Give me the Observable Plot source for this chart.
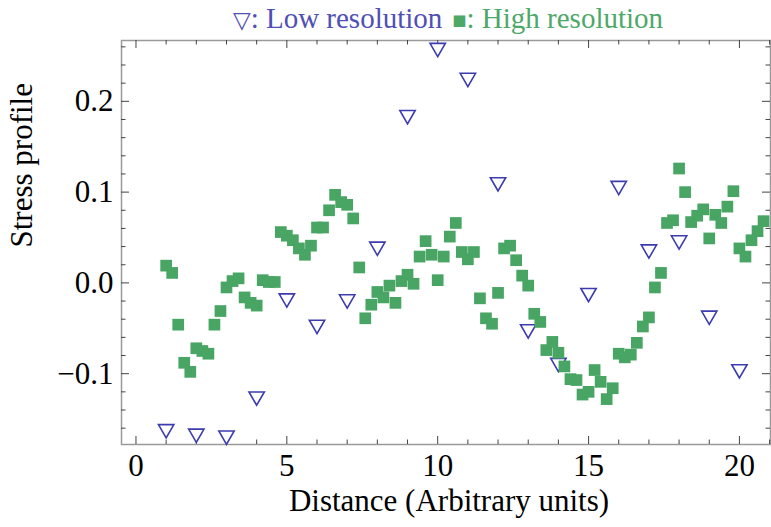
<!DOCTYPE html>
<html>
<head>
<meta charset="utf-8">
<script src="https://cdn.jsdelivr.net/npm/d3@7"></script>
<script src="https://cdn.jsdelivr.net/npm/@observablehq/plot@0.6"></script>
<style>
  body { margin: 0; background: #fff; }
  #wrap { position: relative; width: 771px; height: 527px; }
  #legend { position: absolute; top: 3px; left: 0; width: 896px; text-align: center;
            font-family: "Liberation Serif", "Times New Roman", serif; font-size: 29px; line-height: 30px; white-space: nowrap; }
  #legend .lo { color: #4f4fb5; }
  #legend .hi { color: #4ea868; margin-left: 10px; }
  #legend .sym { font-family: "DejaVu Sans", sans-serif; font-size: 23px; }
</style>
</head>
<body>
<div id="wrap">
  <div id="legend"><span class="lo"><span class="sym">▽</span>: Low resolution</span><span class="hi"><span class="sym" style="font-size:15px;vertical-align:3px">■</span>: High resolution</span></div>
</div>
<script>
// Low resolution series (triangles)
const lowX = [1, 2, 3, 4, 5, 6, 7, 8, 9, 10, 11, 12, 13, 14, 15, 16, 17, 18, 19, 20];
const lowY = [-0.161, -0.166, -0.168, -0.125, -0.017, -0.046, -0.018, 0.040, 0.185, 0.259,
              0.226, 0.111, -0.051, -0.088, -0.011, 0.107, 0.037, 0.047, -0.036, -0.095];

// High resolution series (squares)
const highX = [1.0, 1.2, 1.4, 1.6, 1.8, 2.0, 2.2, 2.4, 2.6, 2.8,
               3.0, 3.2, 3.4, 3.6, 3.8, 4.0, 4.2, 4.4, 4.6, 4.8,
               5.0, 5.2, 5.4, 5.6, 5.8, 6.0, 6.2, 6.4, 6.6, 6.8,
               7.0, 7.2, 7.4, 7.6, 7.8, 8.0, 8.2, 8.4, 8.6, 8.8,
               9.0, 9.2, 9.4, 9.6, 9.8, 10.0, 10.2, 10.4, 10.6, 10.8,
               11.0, 11.2, 11.4, 11.6, 11.8, 12.0, 12.2, 12.4, 12.6, 12.8,
               13.0, 13.2, 13.4, 13.6, 13.8, 14.0, 14.2, 14.4, 14.6, 14.8,
               15.0, 15.2, 15.4, 15.6, 15.8, 16.0, 16.2, 16.4, 16.6, 16.8,
               17.0, 17.2, 17.4, 17.6, 17.8, 18.0, 18.2, 18.4, 18.6, 18.8,
               19.0, 19.2, 19.4, 19.6, 19.8, 20.0, 20.2, 20.4, 20.6, 20.8];
const highY = [0.019, 0.011, -0.046, -0.088, -0.098, -0.072, -0.075, -0.078, -0.046, -0.031,
               -0.005, 0.002, 0.005, -0.016, -0.022, -0.025, 0.003, 0.001, 0.001, 0.056,
               0.052, 0.047, 0.038, 0.031, 0.041, 0.061, 0.061, 0.080, 0.097, 0.089,
               0.086, 0.071, 0.017, -0.039, -0.024, -0.010, -0.016, -0.003, -0.022, 0.002,
               0.009, -0.001, 0.029, 0.046, 0.031, 0.003, 0.029, 0.051, 0.066, 0.034,
               0.026, 0.034, -0.017, -0.039, -0.045, -0.011, 0.038, 0.041, 0.025, 0.008,
               -0.003, -0.034, -0.043, -0.074, -0.065, -0.077, -0.092, -0.106, -0.107, -0.123,
               -0.120, -0.096, -0.109, -0.128, -0.116, -0.078, -0.082, -0.079, -0.066, -0.048,
               -0.038, -0.005, 0.011, 0.066, 0.069, 0.126, 0.100, 0.067, 0.074, 0.081,
               0.049, 0.075, 0.066, 0.084, 0.101, 0.038, 0.029, 0.047, 0.057, 0.068];

// Tick values
const xMajorTicks = [0, 5, 10, 15, 20];
const xMinorTicks = [1, 2, 3, 4, 6, 7, 8, 9, 11, 12, 13, 14, 16, 17, 18, 19, 21];
const yMajorTicks = [-0.1, 0.0, 0.1, 0.2];
const yMinorTicks = [-0.16, -0.14, -0.12, -0.08, -0.06, -0.04, -0.02, 0.02, 0.04, 0.06, 0.08,
                     0.12, 0.14, 0.16, 0.18, 0.22, 0.24, 0.26];

const low = lowX.map((x, i) => ({x, y: lowY[i]}));
const high = highX.map((x, i) => ({x, y: highY[i]}));

const W = 771, H = 527, mL = 121, mR = 1, mT = 40, mB = 83;
const fw = W - mL - mR, fh = H - mT - mB;
const major = 8, minor = 4.5;
const tickColor = "#444";

const chart = Plot.plot({
  width: W, height: H,
  marginLeft: mL, marginRight: mR, marginTop: mT, marginBottom: mB,
  style: {fontFamily: "'Liberation Serif', 'Times New Roman', serif", fontSize: "31px", color: "#000", background: "#fff"},
  x: {domain: [-0.48, 21.03], axis: null},
  y: {domain: [-0.178, 0.267], axis: null},
  marks: [
    Plot.frame({stroke: "#9a9a9a", strokeWidth: 1.5}),
    // bottom & top ticks
    Plot.tickX(xMajorTicks, {x: d => d, insetTop: fh - major, stroke: tickColor}),
    Plot.tickX(xMinorTicks, {x: d => d, insetTop: fh - minor, stroke: tickColor}),
    Plot.tickX(xMajorTicks, {x: d => d, insetBottom: fh - major, stroke: tickColor}),
    Plot.tickX(xMinorTicks, {x: d => d, insetBottom: fh - minor, stroke: tickColor}),
    // left & right ticks
    Plot.tickY(yMajorTicks, {y: d => d, insetRight: fw - major, stroke: tickColor}),
    Plot.tickY(yMinorTicks, {y: d => d, insetRight: fw - minor, stroke: tickColor}),
    Plot.tickY(yMajorTicks, {y: d => d, insetLeft: fw - major, stroke: tickColor}),
    Plot.tickY(yMinorTicks, {y: d => d, insetLeft: fw - minor, stroke: tickColor}),
    Plot.axisX(xMajorTicks, {anchor: "bottom", tickSize: 0, tickPadding: 9, fontSize: 31, label: null, tickFormat: d => String(d)}),
    Plot.axisY(yMajorTicks, {anchor: "left", tickSize: 0, tickPadding: 8, fontSize: 31, label: null, tickFormat: d3.format(".1f")}),
    Plot.text(["Distance (Arbitrary units)"], {frameAnchor: "bottom", dy: 66, dx: 3, fontSize: 31}),
    Plot.text(["Stress profile"], {frameAnchor: "left", dx: -99, dy: 5, rotate: -90, fontSize: 31}),
    // data
    Plot.dot(low, {x: "x", y: "y", symbol: "triangle", rotate: 180, r: 5.7, stroke: "#3c3cb0", strokeWidth: 1.6, fill: "white"}),
    Plot.dot(high, {x: "x", y: "y", symbol: "square", r: 6.6, fill: "#48a564", stroke: "none"})
  ]
});
document.getElementById("wrap").prepend(chart);
</script>
</body>
</html>
